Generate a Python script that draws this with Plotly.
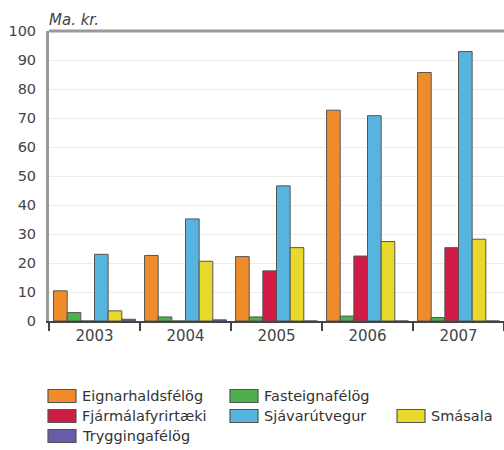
import plotly.graph_objects as go

years = ["2003", "2004", "2005", "2006", "2007"]
series_names = ["Eignarhaldsfélög", "Fasteignafélög", "Fjármálafyrirtæki",
                "Sjávarútvegur", "Smásala", "Tryggingafélög"]
eignarhald = [10.4, 22.6, 22.2, 72.7, 85.7]
fasteign = [2.9, 1.4, 1.4, 1.7, 1.2]
fjarmal = [0.0, 0.0, 17.3, 22.4, 25.3]
sjavarutvegur = [23.0, 35.2, 46.6, 70.8, 92.9]
smasala = [3.5, 20.6, 25.3, 27.4, 28.2]
trygging = [0.6, 0.4, 0.0, 0.0, 0.0]
series_values = [eignarhald, fasteign, fjarmal, sjavarutvegur, smasala, trygging]
colors = ["#EE8B2A", "#4DB04A", "#CF1B45", "#57B4DF", "#E8D92C", "#6A5BA8"]

FONT = "DejaVu Sans"
TXT = "#444444"
fig = go.Figure()
for name, vals, col in zip(series_names, series_values, colors):
    fig.add_trace(go.Bar(
        x=years, y=vals, name=name,
        marker=dict(color=col, line=dict(color="#555555", width=1)),
        showlegend=False,
    ))

fig.update_layout(
    width=504, height=450,
    margin=dict(l=49, r=0, t=31, b=129),
    paper_bgcolor="white", plot_bgcolor="white",
    barmode="group", bargap=0.1, bargroupgap=0,
    font=dict(family=FONT, size=15, color=TXT),
    xaxis=dict(
        showline=True, linecolor="#444444", linewidth=1.5,
        ticks="outside", tickson="boundaries", ticklen=8, tickcolor="#444444", tickwidth=1.5,
        showgrid=False, tickfont=dict(size=15, color=TXT),
    ),
    yaxis=dict(
        range=[0, 100], dtick=10, showline=True, linecolor="#9a9a9a", linewidth=3,
        gridcolor="#ececec", gridwidth=1, zeroline=False, ticks="",
        ticklabelstandoff=7, tickfont=dict(size=14.5, color=TXT),
    ),
)

# top frame line at 100
fig.add_shape(type="line", xref="paper", yref="paper", x0=0, x1=1, y0=1, y1=1,
              line=dict(color="#9a9a9a", width=3))

fig.add_annotation(text="<i>Ma. kr.</i>", xref="paper", yref="paper", x=0, y=1,
                   xanchor="left", yanchor="bottom", yshift=0, xshift=-2, showarrow=False,
                   font=dict(size=15, color=TXT, family=FONT))

# legend drawn in pixel space below the plot (plot area: x 49..504, y 31..321)
legend_slots = [(48, 396), (230, 396), (48, 416), (230, 416), (397, 416), (48, 436)]
SW, SH = 28, 13
for name, col, (px, py) in zip(series_names, colors, legend_slots):
    fig.add_shape(type="rect", xref="paper", yref="paper",
                  x0=(px - 49) / 455, x1=(px + SW - 49) / 455,
                  y0=(321 - (py + SH / 2)) / 290, y1=(321 - (py - SH / 2)) / 290,
                  fillcolor=col, line=dict(color="#555555", width=1.2))
    fig.add_annotation(text=name, xref="paper", yref="paper",
                       x=(px + SW + 4 - 49) / 455, y=(321 - py) / 290,
                       xanchor="left", yanchor="middle", showarrow=False,
                       font=dict(size=14.5, color="#333333", family=FONT))

fig.write_html("out.html")
